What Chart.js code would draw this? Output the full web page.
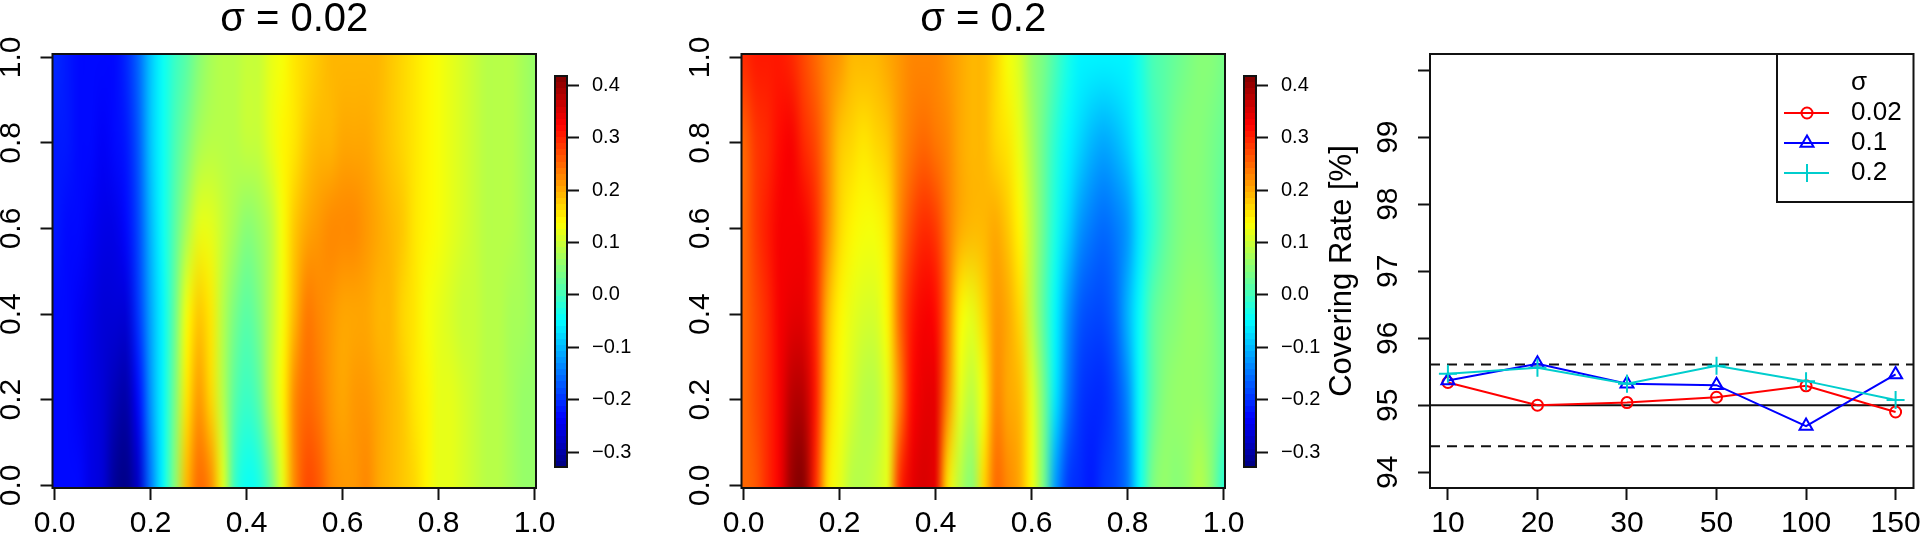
<!DOCTYPE html>
<html>
<head>
<meta charset="utf-8">
<title>Covering rate</title>
<script src="https://cdn.jsdelivr.net/npm/chart.js@4/dist/chart.umd.js"></script>
<style>
html, body { margin: 0; padding: 0; background: #fff; overflow: hidden; }
#wrap { position: relative; width: 1920px; height: 534px; }
canvas { position: absolute; top: 0; }
</style>
</head>
<body>
<div id="wrap"></div>
<script>
// grid positions of the two surfaces
const xGrid = [0, 0.025, 0.05, 0.075, 0.1, 0.125, 0.15, 0.175, 0.2, 0.225,
  0.25, 0.275, 0.3, 0.325, 0.35, 0.375, 0.4, 0.425, 0.45, 0.475,
  0.5, 0.525, 0.55, 0.575, 0.6, 0.625, 0.65, 0.675, 0.7, 0.725,
  0.75, 0.775, 0.8, 0.825, 0.85, 0.875, 0.9, 0.925, 0.95, 0.975, 1];
const yGrid = [0, 0.2, 0.4, 0.6, 0.8, 1];

// sigma = 0.02, one row per yGrid value
const surfaceA = [
  [-.225,-.225,-.235,-.25,-.27,-.31,-.325,-.28,-.15,-.05,
   .05,.19,.245,.225,.12,-.01,-.04,-.03,.03,.115,
   .22,.27,.255,.225,.21,.215,.22,.205,.185,.175,
   .165,.14,.125,.115,.105,.095,.09,.08,.07,.065,.06],
  [-.225,-.225,-.24,-.255,-.265,-.285,-.295,-.23,-.12,-.055,
   .04,.16,.215,.17,.08,.01,-.01,.02,.08,.14,
   .22,.25,.24,.215,.205,.21,.215,.20,.185,.175,
   .16,.14,.125,.115,.105,.095,.09,.08,.07,.065,.06],
  [-.225,-.23,-.24,-.25,-.26,-.27,-.26,-.2,-.11,-.05,
   .03,.13,.175,.15,.09,.04,.02,.04,.09,.135,
   .19,.235,.225,.21,.205,.205,.20,.195,.185,.17,
   .155,.135,.12,.11,.10,.095,.09,.08,.075,.07,.065],
  [-.22,-.225,-.235,-.245,-.255,-.255,-.235,-.18,-.10,-.04,
   .01,.07,.115,.125,.10,.07,.05,.06,.09,.135,
   .18,.20,.21,.22,.225,.225,.21,.20,.185,.175,
   .16,.14,.13,.12,.11,.10,.09,.085,.08,.07,.065],
  [-.215,-.22,-.23,-.235,-.24,-.235,-.22,-.17,-.09,-.04,
   0,.04,.07,.09,.09,.09,.095,.10,.12,.14,
   .16,.175,.185,.195,.20,.205,.20,.19,.18,.17,
   .155,.14,.13,.12,.11,.10,.09,.085,.08,.07,.065],
  [-.21,-.215,-.225,-.235,-.235,-.225,-.205,-.16,-.09,-.04,
   -.01,.02,.05,.07,.08,.09,.095,.10,.12,.135,
   .15,.165,.175,.185,.19,.195,.19,.185,.175,.17,
   .155,.14,.13,.12,.11,.10,.09,.085,.08,.07,.065]
];

// sigma = 0.2
const surfaceB = [
  [.25,.26,.29,.33,.40,.42,.30,.15,.125,.09,
   .09,.095,.12,.30,.345,.35,.345,.15,.08,.05,
   .17,.25,.22,.20,.13,.04,-.13,-.20,-.21,-.215,
   -.20,-.18,-.15,-.04,.04,.06,.045,.06,.08,.05,-.02],
  [.25,.27,.30,.335,.375,.38,.31,.18,.135,.105,
   .09,.09,.12,.22,.32,.345,.34,.23,.12,.08,
   .13,.225,.20,.185,.12,.04,-.07,-.15,-.19,-.205,
   -.205,-.185,-.14,-.04,.02,.05,.06,.06,.06,.05,.03],
  [.25,.27,.30,.335,.345,.345,.30,.19,.14,.115,
   .105,.105,.14,.25,.31,.325,.32,.235,.14,.125,
   .17,.215,.20,.165,.09,.02,-.05,-.12,-.17,-.18,
   -.185,-.165,-.10,-.04,.01,.04,.055,.06,.06,.05,.03],
  [.25,.28,.31,.325,.335,.325,.29,.23,.17,.14,
   .13,.135,.16,.22,.27,.295,.28,.24,.205,.19,
   .195,.20,.175,.14,.08,.03,-.03,-.08,-.12,-.15,
   -.16,-.15,-.12,-.07,-.02,.01,.04,.05,.05,.04,.02],
  [.25,.28,.30,.32,.325,.30,.27,.22,.18,.165,
   .16,.165,.18,.215,.24,.25,.24,.22,.20,.19,
   .185,.17,.15,.125,.07,.03,-.02,-.05,-.08,-.10,
   -.115,-.10,-.075,-.04,-.01,.02,.04,.05,.05,.04,.03],
  [.29,.31,.31,.31,.29,.27,.25,.23,.21,.195,
   .19,.19,.20,.215,.225,.225,.225,.215,.20,.19,
   .185,.17,.13,.11,.06,.04,0,-.03,-.05,-.06,
   -.06,-.06,-.05,-.03,0,.02,.03,.04,.05,.05,.04]
];

const zMin = -0.3286;
const zMax = 0.418;
const unitTicks = [0, 0.2, 0.4, 0.6, 0.8, 1];
const barTicks = [-0.3, -0.2, -0.1, 0, 0.1, 0.2, 0.3, 0.4];

// right hand panel
const sampleLabels = ['10', '20', '30', '50', '100', '150'];
const samplePos = [1, 2, 3, 4, 5, 6];
const rateA = [95.34, 95.0, 95.04, 95.12, 95.29, 94.9];
const rateB = [95.37, 95.62, 95.32, 95.30, 94.69, 95.46];
const rateC = [95.47, 95.56, 95.32, 95.59, 95.36, 95.08];
const rateTicks = [94, 95, 96, 97, 98, 99, 100];
const nominal = 95;
const bandLow = 94.39;
const bandHigh = 95.61;
const legendTitle = 'σ';
const legendNames = ['0.02', '0.1', '0.2'];
const legendColors = ['#ff0000', '#0000ff', '#00cdcd'];
const legendMarkers = ['circle', 'triangle', 'cross'];
const markerSizes = [5.5, 7.5, 9];

const FONT = '"Liberation Sans", Arial, sans-serif';
const INK = '#111';

function addCanvas(left, width) {
  const c = document.createElement('canvas');
  c.width = width;
  c.height = 534;
  c.style.left = left + 'px';
  c.style.width = width + 'px';
  c.style.height = '534px';
  document.getElementById('wrap').appendChild(c);
  return c.getContext('2d');
}

function jet(z) {
  // same 64 steps as the colour bar
  const level = Math.min(63, Math.max(0, Math.floor((z - zMin) / (zMax - zMin) * 64)));
  const t = (level + 0.5) / 64;
  const ch = v => Math.round(255 * Math.max(0, Math.min(1, 1.5 - Math.abs(4 * t - v))));
  return 'rgb(' + ch(3) + ',' + ch(2) + ',' + ch(1) + ')';
}

function cellsOf(xs, ys, rows) {
  const cells = [];
  ys.forEach((y, j) => xs.forEach((x, i) => cells.push({x: x, y: y, v: rows[j][i]})));
  return cells;
}

// paints the cells of dataset 0 at their scale positions
const heatPlugin = {
  id: 'heat',
  beforeDatasetsDraw(chart) {
    const cells = chart.data.datasets[0].data;
    const xs = [...new Set(cells.map(c => c.x))];
    const ys = [...new Set(cells.map(c => c.y))];
    const off = document.createElement('canvas');
    off.width = xs.length;
    off.height = ys.length;
    const o = off.getContext('2d');
    cells.forEach(c => {
      o.fillStyle = jet(c.v);
      o.fillRect(xs.indexOf(c.x), ys.length - 1 - ys.indexOf(c.y), 1, 1);
    });
    const dx = xs.length > 1 ? xs[1] - xs[0] : 1;
    const dy = ys[1] - ys[0];
    const {x: sx, y: sy} = chart.scales;
    const a = chart.chartArea;
    const left = sx.getPixelForValue(xs[0] - dx / 2);
    const right = sx.getPixelForValue(xs[xs.length - 1] + dx / 2);
    const top = sy.getPixelForValue(ys[ys.length - 1] + dy / 2);
    const bottom = sy.getPixelForValue(ys[0] - dy / 2);
    const ctx = chart.ctx;
    ctx.save();
    ctx.beginPath();
    ctx.rect(a.left, a.top, a.width, a.height);
    ctx.clip();
    ctx.imageSmoothingEnabled = xs.length > 1;
    ctx.imageSmoothingQuality = 'high';
    ctx.drawImage(off, left, top, right - left, bottom - top);
    ctx.restore();
  }
};

const boxPlugin = {
  id: 'box',
  afterDraw(chart) {
    const a = chart.chartArea;
    const ctx = chart.ctx;
    ctx.save();
    ctx.strokeStyle = INK;
    ctx.lineWidth = 2;
    ctx.strokeRect(a.left, a.top, a.width, a.height);
    ctx.restore();
  }
};

const legendPlugin = {
  id: 'rLegend',
  afterDraw(chart) {
    const ctx = chart.ctx;
    const off = chart.canvas.offsetLeft;
    const top = chart.chartArea.top;
    ctx.save();
    ctx.strokeStyle = INK;
    ctx.lineWidth = 2;
    ctx.beginPath();
    ctx.moveTo(1777 - off, top);
    ctx.lineTo(1777 - off, 202);
    ctx.lineTo(chart.chartArea.right, 202);
    ctx.stroke();
    ctx.font = '26px ' + FONT;
    ctx.fillStyle = '#000';
    ctx.textBaseline = 'middle';
    ctx.fillText(legendTitle, 1851 - off, 83);
    legendNames.forEach((name, i) => {
      const y = 113 + i * 30;
      ctx.strokeStyle = legendColors[i];
      ctx.lineWidth = 2;
      ctx.beginPath();
      ctx.moveTo(1784 - off, y);
      ctx.lineTo(1829 - off, y);
      ctx.stroke();
      ctx.fillStyle = 'rgba(0,0,0,0)';
      Chart.helpers.drawPoint(ctx, {pointStyle: legendMarkers[i], radius: markerSizes[i], rotation: 0, borderWidth: 2}, 1807 - off, y);
      ctx.fillStyle = '#000';
      ctx.fillText(name, 1851 - off, y);
    });
    ctx.restore();
  }
};

// labels may hang over the box, the scale should not shrink for them
function noMargins(s) {
  s.paddingLeft = s.paddingRight = s.paddingTop = s.paddingBottom = 0;
}

function xAxis(min, max, ticks, label) {
  return {
    type: 'linear', min: min, max: max,
    afterBuildTicks: s => { s.ticks = ticks.map(v => ({value: v})); },
    afterFit: s => { s.height = 46; noMargins(s); },
    border: {display: false},
    grid: {drawOnChartArea: false, tickLength: 12, tickWidth: 2, tickColor: INK},
    ticks: {
      autoSkip: false, maxRotation: 0, minRotation: 0, padding: 6, color: '#000',
      font: {family: FONT, size: 30},
      callback: label
    }
  };
}

function yAxis(min, max, ticks, label, width, pad) {
  return {
    type: 'linear', min: min, max: max,
    afterBuildTicks: s => { s.ticks = ticks.map(v => ({value: v})); },
    afterFit: s => { s.width = width; noMargins(s); },
    border: {display: false},
    grid: {drawOnChartArea: false, tickLength: 12, tickWidth: 2, tickColor: INK},
    ticks: {
      autoSkip: false, minRotation: 90, maxRotation: 90, crossAlign: 'center', padding: pad, color: '#000',
      font: {family: FONT, size: 30},
      callback: label
    }
  };
}

function surfaceChart(left, rows, title) {
  new Chart(addCanvas(left, 600), {
    type: 'scatter',
    plugins: [heatPlugin, boxPlugin],
    data: {datasets: [{data: cellsOf(xGrid, yGrid, rows), pointRadius: 0, showLine: false}]},
    options: {
      responsive: false, animation: false, devicePixelRatio: 1,
      layout: {autoPadding: false, padding: {right: 64}},
      scales: {
        x: xAxis(-0.0044, 1.0028, unitTicks, v => v.toFixed(1)),
        y: yAxis(-0.0063, 1.0077, unitTicks, v => v.toFixed(1), 52.5, 8)
      },
      plugins: {
        legend: {display: false},
        tooltip: {enabled: false},
        title: {
          display: true, text: title, fullSize: false, color: '#000',
          font: {family: FONT, size: 40, weight: 'normal', lineHeight: 1},
          padding: {top: 0, bottom: 14}
        }
      }
    }
  });
}

function colourBar(left) {
  // palette ramp of the bar: 64 equal steps of the z range
  const levels = [];
  for (let i = 0; i < 64; i++) levels.push(zMin + (i + 0.5) * (zMax - zMin) / 64);
  new Chart(addCanvas(left, 110), {
    type: 'scatter',
    plugins: [heatPlugin, boxPlugin],
    data: {datasets: [{data: cellsOf([0], levels, levels.map(v => [v])), pointRadius: 0, showLine: false}]},
    options: {
      responsive: false, animation: false, devicePixelRatio: 1,
      layout: {autoPadding: false, padding: {left: 15, top: 76, bottom: 67}},
      scales: {
        x: {type: 'linear', min: -0.5, max: 0.5, display: false},
        y: {
          type: 'linear', position: 'right', min: zMin, max: zMax,
          afterBuildTicks: s => { s.ticks = barTicks.map(v => ({value: v})); },
          afterFit: s => { s.width = 83; noMargins(s); },
          border: {display: false},
          grid: {drawOnChartArea: false, tickLength: 12, tickWidth: 2, tickColor: INK},
          ticks: {
            autoSkip: false, padding: 13, color: '#000',
            font: {family: FONT, size: 20},
            callback: v => v.toFixed(1).replace('-', '−')
          }
        }
      },
      plugins: {legend: {display: false}, tooltip: {enabled: false}}
    }
  });
}

function rateSeries(values, i) {
  return {
    label: legendNames[i],
    data: values.map((v, k) => ({x: samplePos[k], y: v})),
    borderColor: legendColors[i],
    backgroundColor: 'rgba(0,0,0,0)',
    borderWidth: 2,
    pointStyle: legendMarkers[i],
    pointRadius: markerSizes[i],
    pointBorderWidth: 2,
    pointBorderColor: legendColors[i],
    pointBackgroundColor: 'rgba(0,0,0,0)',
    order: 3 - i
  };
}

function refLine(value, dash) {
  return {
    data: [{x: 0.8, y: value}, {x: 6.2, y: value}],
    borderColor: INK, borderWidth: 2, borderDash: dash, pointRadius: 0, order: 5
  };
}

surfaceChart(0, surfaceA, 'σ = 0.02');
colourBar(540);
surfaceChart(688.5, surfaceB, 'σ = 0.2');
colourBar(1228.5);

new Chart(addCanvas(1320, 600), {
  type: 'line',
  plugins: [boxPlugin, legendPlugin],
  data: {
    datasets: [
      rateSeries(rateA, 0),
      rateSeries(rateB, 1),
      rateSeries(rateC, 2),
      refLine(nominal, []),
      refLine(bandHigh, [10, 7]),
      refLine(bandLow, [10, 7])
    ]
  },
  options: {
    responsive: false, animation: false, devicePixelRatio: 1,
    layout: {autoPadding: false, padding: {top: 54, right: 6.5}},
    scales: {
      x: xAxis(0.8, 6.2, samplePos, v => sampleLabels[v - 1]),
      y: Object.assign(
        yAxis(93.766, 100.24, rateTicks, v => (v === 100 ? '' : String(v)), 110, 13),
        {title: {display: true, text: 'Covering Rate [%]', color: '#000',
          font: {family: FONT, size: 31}, padding: {top: 4, bottom: 0}}}
      )
    },
    plugins: {legend: {display: false}, tooltip: {enabled: false}}
  }
});
</script>
</body>
</html>
